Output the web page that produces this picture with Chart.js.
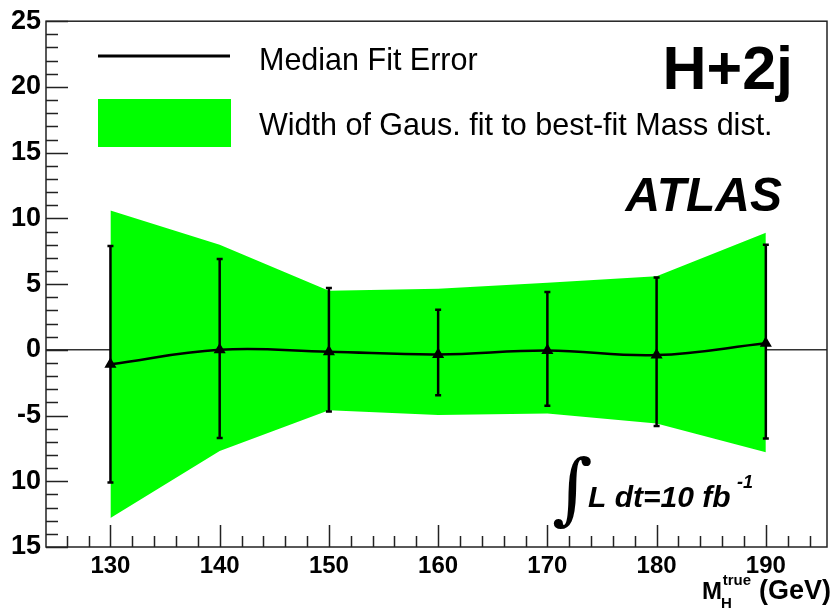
<!DOCTYPE html>
<html>
<head>
<meta charset="utf-8">
<script src="https://cdn.jsdelivr.net/npm/chart.js@4.4.1/dist/chart.umd.min.js"></script>
<style>
   html, body { margin: 0; padding: 0; background: #fff; }
   #wrap { width: 834px; height: 609px; }
</style>
</head>
<body>
<div id="wrap"><canvas id="graphique" width="834" height="609"></canvas></div>
<script>
const FONT = '"Liberation Sans", Arial, Helvetica, sans-serif';

// Higgs mass points (GeV)
const masses = [130, 140, 150, 160, 170, 180, 190];
// median fit error: central value and ends of the error bar
const median = [-1.1, 0.0, -0.15, -0.35, -0.05, -0.4, 0.5];
const errHigh = [7.9, 6.9, 4.7, 3.05, 4.4, 5.5, 8.0];
const errLow = [-10.1, -6.7, -4.7, -3.45, -4.25, -5.8, -6.75];
// width of the gaussian fit (green band edges)
const bandHigh = [10.6, 8.0, 4.5, 4.65, 5.1, 5.6, 8.9];
const bandLow = [-12.8, -7.7, -4.6, -4.95, -4.85, -5.6, -7.8];

// tick labels on the y axis (the minus signs are missing on the lower ones)
const yTickValues = [25, 20, 15, 10, 5, 0, -5, -10, -15];
const yTickLabels = ['25', '20', '15', '10', '5', '0', '-5', '10', '15'];
const xTickValues = [130, 140, 150, 160, 170, 180, 190];

const pts = arr => masses.map((m, i) => ({ x: m, y: arr[i] }));

// inward ticks, frame, error bars and all the text boxes
const decor = {
   id: 'decor',
   afterDatasetsDraw(chart) {
      const c = chart.ctx;
      const a = chart.chartArea;
      const xs = chart.scales.x;
      const ys = chart.scales.y;
      c.save();

      // error bars on the median points
      c.strokeStyle = '#000';
      c.lineWidth = 2.5;
      masses.forEach((m, i) => {
         const px = xs.getPixelForValue(m);
         const top = ys.getPixelForValue(errHigh[i]);
         const bot = ys.getPixelForValue(errLow[i]);
         c.beginPath();
         c.moveTo(px, top); c.lineTo(px, bot);
         c.moveTo(px - 3, top); c.lineTo(px + 3, top);
         c.moveTo(px - 3, bot); c.lineTo(px + 3, bot);
         c.stroke();
      });

      // frame
      c.strokeStyle = '#222';
      c.lineWidth = 1.5;
      c.strokeRect(a.left, a.top, a.right - a.left, a.bottom - a.top);

      // ticks
      c.lineWidth = 1.5;
      c.beginPath();
      for (let v = -15; v <= 25; v++) {
         const py = Math.round(ys.getPixelForValue(v)) + 0.5;
         const len = v % 5 === 0 ? 22 : 12;
         c.moveTo(a.left, py); c.lineTo(a.left + len, py);
      }
      for (let v = 126; v <= 194; v += 2) {
         const px = Math.round(xs.getPixelForValue(v)) + 0.5;
         const len = v % 10 === 0 ? 22 : 11;
         c.moveTo(px, a.bottom); c.lineTo(px, a.bottom - len);
      }
      c.stroke();

      // legend
      c.fillStyle = '#000';
      c.font = '30.5px ' + FONT;
      c.textBaseline = 'alphabetic';
      c.textAlign = 'left';
      const med = chart.data.datasets[2];
      const band = chart.data.datasets[1];
      c.strokeStyle = med.borderColor;
      c.lineWidth = 3;
      c.beginPath(); c.moveTo(98, 56); c.lineTo(230, 56); c.stroke();
      c.fillText(med.label, 259, 70);
      c.fillStyle = band.backgroundColor;
      c.fillRect(98, 99, 133, 48);
      c.fillStyle = '#000';
      c.fillText(band.label, 259, 135);

      // channel and experiment labels
      c.textAlign = 'right';
      c.font = 'bold 61px ' + FONT;
      c.fillText('H+2j', 793, 89);
      c.font = 'italic bold 48px ' + FONT;
      c.fillText('ATLAS', 782, 211);

      // luminosity
      c.textAlign = 'left';
      c.font = '78px "DejaVu Serif", serif';
      c.fillText('\u222B', 552, 515);
      c.font = 'italic bold 30px ' + FONT;
      c.fillText('L dt=10 fb', 588, 507);
      c.font = 'italic bold 18px ' + FONT;
      c.fillText('-1', 737, 488);

      // x axis title: M_H^true (GeV)
      c.textAlign = 'right';
      c.font = 'bold 27px ' + FONT;
      c.fillText('(GeV)', 831, 599);
      c.font = 'bold 15px ' + FONT;
      c.fillText('true', 751, 585);
      c.textAlign = 'left';
      c.fillText('H', 721, 608);
      c.textAlign = 'right';
      c.font = 'bold 24px ' + FONT;
      c.fillText('M', 722, 599);

      c.restore();
   }
};

new Chart(document.getElementById('graphique'), {
   type: 'line',
   data: {
      datasets: [
         {
            label: 'band low',
            data: pts(bandLow),
            borderWidth: 0,
            pointRadius: 0,
            fill: false,
            tension: 0,
            order: 3
         },
         {
            label: 'Width of Gaus. fit to best-fit Mass dist.',
            data: pts(bandHigh),
            borderWidth: 0,
            pointRadius: 0,
            backgroundColor: '#00ff00',
            fill: '-1',
            tension: 0,
            order: 2
         },
         {
            label: 'Median Fit Error',
            data: pts(median),
            borderColor: '#000',
            borderWidth: 2.5,
            pointStyle: 'triangle',
            pointRadius: 4.5,
            pointBackgroundColor: '#000',
            pointBorderColor: '#000',
            fill: false,
            tension: 0.4,
            order: 1
         }
      ]
   },
   options: {
      responsive: false,
      animation: false,
      layout: {
         padding: { top: 14, right: 5, left: 0, bottom: 0 }
      },
      plugins: {
         legend: { display: false },
         tooltip: { enabled: false }
      },
      scales: {
         x: {
            type: 'linear',
            min: 124.1,
            max: 195.6,
            afterFit: s => { s.height = 62; },
            afterBuildTicks: s => { s.ticks = xTickValues.map(v => ({ value: v })); },
            ticks: {
               autoSkip: false,
               maxRotation: 0,
               padding: -3,
               color: '#000',
               font: { family: FONT, size: 24, weight: 'bold' }
            },
            grid: { display: false },
            border: { display: false }
         },
         y: {
            min: -15,
            max: 25,
            afterFit: s => { s.width = 46; },
            afterBuildTicks: s => { s.ticks = yTickValues.map(v => ({ value: v })); },
            ticks: {
               autoSkip: false,
               padding: 5,
               color: '#000',
               font: { family: FONT, size: 27, weight: 'bold' },
               callback: v => yTickLabels[yTickValues.indexOf(v)]
            },
            grid: {
               drawTicks: false,
               lineWidth: 1.5,
               color: c => c.tick && c.tick.value === 0 ? '#333' : 'transparent'
            },
            border: { display: false }
         }
      }
   },
   plugins: [decor]
});
</script>
</body>
</html>
